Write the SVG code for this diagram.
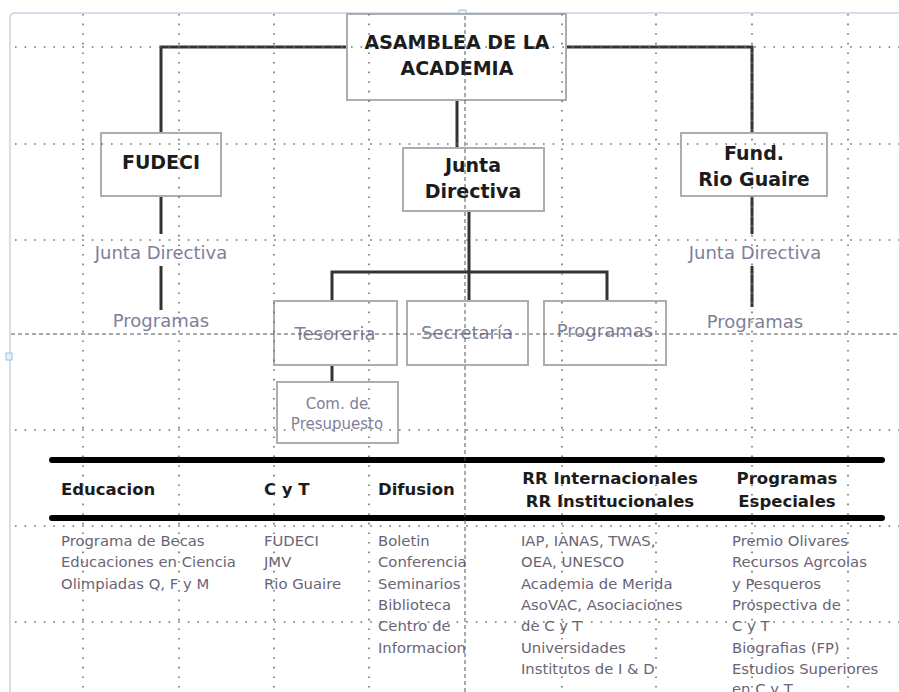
<svg xmlns="http://www.w3.org/2000/svg" width="899" height="692" viewBox="0 0 899 692">
<style>
  .box{fill:#fff;stroke:#adadad;stroke-width:2}
  .conn{fill:none;stroke:#333;stroke-width:3}
  .hdr{font-family:"DejaVu Sans","Liberation Sans",sans-serif;font-weight:bold;fill:#1c1c1c}
  .nb{font-family:"DejaVu Sans","Liberation Sans",sans-serif;font-weight:bold;font-size:19px;fill:#1c1c1c;text-anchor:middle}
  .ng{font-family:"DejaVu Sans","Liberation Sans",sans-serif;font-size:18px;fill:#80809a;text-anchor:middle}
  .body{font-family:"DejaVu Sans","Liberation Sans",sans-serif;font-size:14.8px;fill:#6a6476}
  .dot{stroke:#6e6e6e;stroke-width:1.6;stroke-dasharray:1.6 8;fill:none}
  .dash{stroke:#555;stroke-width:1;stroke-dasharray:4 3;fill:none}
  .rule{stroke:#000;stroke-width:6;stroke-linecap:round}
</style>
<rect width="899" height="692" fill="#fff"/>
<g id="canvas-frame">
  <path d="M10,692 V18 Q10,13 15,13 H899" fill="none" stroke="#c8d5e2" stroke-width="1.5"/>
  <rect x="459" y="10" width="7" height="6" fill="#e8f1fb" stroke="#9fc0e0" stroke-width="1"/>
  <rect x="6" y="353" width="6" height="7" fill="#e8f1fb" stroke="#9fc0e0" stroke-width="1"/>
</g>
<g id="connectors">
  <polyline class="conn" points="347,47 161,47 161,133"/>
  <polyline class="conn" points="566,47 752,47 752,134"/>
  <line class="conn" x1="457" y1="100" x2="457" y2="148"/>
  <line class="conn" x1="161" y1="196" x2="161" y2="234"/>
  <line class="conn" x1="161" y1="266" x2="161" y2="310"/>
  <line class="conn" x1="752" y1="196" x2="752" y2="234"/>
  <line class="conn" x1="752" y1="266" x2="752" y2="307"/>
  <line class="conn" x1="469" y1="211" x2="469" y2="301"/>
  <polyline class="conn" points="332,301 332,272 607,272 607,301"/>
  <line class="conn" x1="332" y1="365" x2="332" y2="382"/>
</g>
<g id="asamblea">
  <rect class="box" x="347" y="14" width="219" height="86"/>
  <text class="nb" x="457" y="49">ASAMBLEA DE LA</text>
  <text class="nb" x="457" y="75">ACADEMIA</text>
</g>
<g id="fudeci">
  <rect class="box" x="101" y="133" width="120" height="63"/>
  <text class="nb" x="161" y="169">FUDECI</text>
</g>
<g id="junta-directiva">
  <rect class="box" x="403" y="148" width="141" height="63"/>
  <text class="nb" x="473" y="172">Junta</text>
  <text class="nb" x="473" y="198">Directiva</text>
</g>
<g id="fund-rio-guaire">
  <rect class="box" x="681" y="133" width="146" height="63"/>
  <text class="nb" x="754" y="160">Fund.</text>
  <text class="nb" x="754" y="186">Rio Guaire</text>
</g>
<g id="fudeci-junta"><text class="ng" x="161" y="259">Junta Directiva</text></g>
<g id="fudeci-programas"><text class="ng" x="161" y="327">Programas</text></g>
<g id="rg-junta"><text class="ng" x="755" y="259">Junta Directiva</text></g>
<g id="rg-programas"><text class="ng" x="755" y="328">Programas</text></g>
<g id="tesoreria">
  <rect class="box" x="274" y="301" width="123" height="64"/>
  <text class="ng" x="335" y="340">Tesoreria</text>
</g>
<g id="secretaria">
  <rect class="box" x="407" y="301" width="121" height="64"/>
  <text class="ng" x="467" y="339">Secretaría</text>
</g>
<g id="programas">
  <rect class="box" x="544" y="301" width="122" height="64"/>
  <text class="ng" x="605" y="337">Programas</text>
</g>
<g id="com-presupuesto">
  <rect class="box" x="277" y="382" width="121" height="61"/>
  <text class="ng" x="337" y="409" style="font-size:15px">Com. de</text>
  <text class="ng" x="337" y="429" style="font-size:15px">Presupuesto</text>
</g>
<g id="table">
  <line class="rule" x1="52" y1="460" x2="882" y2="460"/>
  <line class="rule" x1="52" y1="518" x2="882" y2="518"/>
  <g class="hdr" style="font-size:16.5px">
    <text x="61" y="495">Educacion</text>
    <text x="264" y="495">C y T</text>
    <text x="378" y="495">Difusion</text>
    <text x="610" y="484" text-anchor="middle">RR Internacionales</text>
    <text x="610" y="507" text-anchor="middle">RR Institucionales</text>
    <text x="787" y="484" text-anchor="middle">Programas</text>
    <text x="787" y="507" text-anchor="middle">Especiales</text>
  </g>
  <g class="body">
    <text x="61" y="546">Programa de Becas</text>
    <text x="61" y="567.3">Educaciones en Ciencia</text>
    <text x="61" y="588.6">Olimpiadas Q, F y M</text>
    <text x="264" y="546">FUDECI</text>
    <text x="264" y="567.3">JMV</text>
    <text x="264" y="588.6">Rio Guaire</text>
    <text x="378" y="546">Boletin</text>
    <text x="378" y="567.3">Conferencia</text>
    <text x="378" y="588.6">Seminarios</text>
    <text x="378" y="610">Biblioteca</text>
    <text x="378" y="631.2">Centro de</text>
    <text x="378" y="652.5">Informacion</text>
    <text x="521" y="546">IAP, IANAS, TWAS,</text>
    <text x="521" y="567.3">OEA, UNESCO</text>
    <text x="521" y="588.6">Academia de Merida</text>
    <text x="521" y="610">AsoVAC, Asociaciones</text>
    <text x="521" y="631.2">de C y T</text>
    <text x="521" y="652.5">Universidades</text>
    <text x="521" y="673.8">Institutos de I &amp; D</text>
    <text x="732" y="546">Premio Olivares</text>
    <text x="732" y="567.3">Recursos Agrcolas</text>
    <text x="732" y="588.6">y Pesqueros</text>
    <text x="732" y="610">Prospectiva de</text>
    <text x="732" y="631.2">C y T</text>
    <text x="732" y="652.5">Biografias (FP)</text>
    <text x="732" y="673.8">Estudios Superiores</text>
    <text x="732" y="694">en C y T.</text>
  </g>
</g>
<g id="grid">
  <path class="dot" d="M83,14V692M179,14V692M274,14V692M369,14V692M562,14V692M656,14V692M752,14V692M848,14V692"/>
  <path class="dot" d="M15,47H899M15,144H899M15,240H899M15,430H899M15,526H899M15,622H899"/>
  <path class="dash" d="M465,16V692M11,334H899"/>
</g>
</svg>
